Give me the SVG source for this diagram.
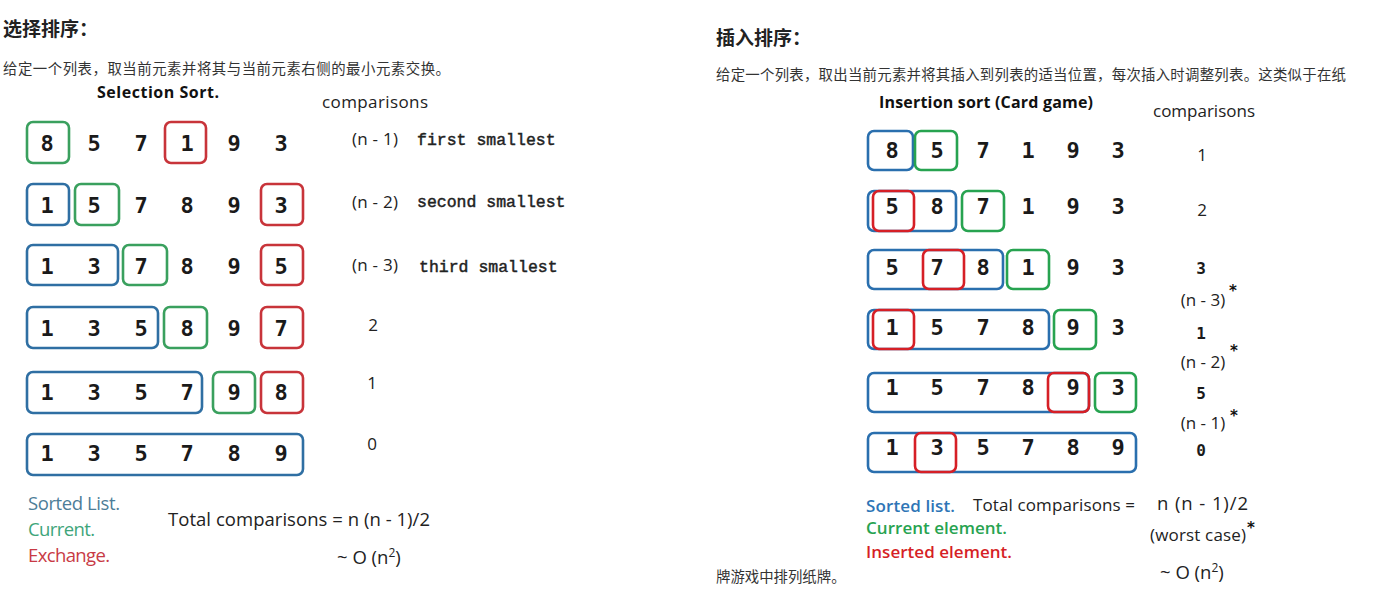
<svg xmlns="http://www.w3.org/2000/svg" width="1374" height="589" viewBox="0 0 1374 589">
<style>
.bg{fill:#ffffff}
.h{font-family:"Noto Sans CJK SC","Noto Sans",sans-serif;font-weight:bold;font-size:19px;fill:#222}
.sub{font-family:"Noto Sans CJK SC","Noto Sans",sans-serif;font-size:14.4px;fill:#333}
.cap{font-family:"Open Sans","Noto Sans",sans-serif;font-weight:bold;font-size:16px;fill:#111}
.t{font-family:"Open Sans","Noto Sans",sans-serif;font-size:17px;fill:#222}
.tl{font-family:"Open Sans","Noto Sans",sans-serif;font-size:18.5px;fill:#222}
.d{font-family:"DejaVu Sans Mono",monospace;font-weight:bold;font-size:22px;fill:#1a1a1a;text-anchor:middle}
.m{font-family:"Liberation Mono","Courier New",monospace;font-size:16.5px;fill:#222;stroke:#222;stroke-width:0.45}
.mc{font-family:"DejaVu Sans Mono",monospace;font-weight:bold;font-size:16px;fill:#1a1a1a;text-anchor:middle}
.c{text-anchor:middle}
.star{font-family:"DejaVu Sans",sans-serif;font-weight:bold;font-size:15px;fill:#111}
.bx{fill:none;stroke-width:2.6}
.lb{stroke:#2f6fa3}.lg{stroke:#3aa05e}.lr{stroke:#c8343a}
.rb{stroke:#2a6fae}.rg{stroke:#27a350}.rr{stroke:#d61f26}
</style>
<rect class="bg" x="0" y="0" width="1374" height="589"/>

<g id="sel-title">
<text class="h" x="3" y="36">选择排序：</text>
<text class="sub" x="3" y="74" textLength="447">给定一个列表，取当前元素并将其与当前元素右侧的最小元素交换。</text>
<text class="cap" x="97" y="98" textLength="122">Selection Sort.</text>
<text class="t" x="322" y="108" textLength="106">comparisons</text>
</g>

<g id="sel-row1">
<rect class="bx lg" x="27" y="122" width="42" height="41" rx="6"/>
<rect class="bx lr" x="165" y="122" width="41" height="41" rx="6"/>
<text class="d" y="151"><tspan x="47">8</tspan><tspan x="94">5</tspan><tspan x="141">7</tspan><tspan x="187">1</tspan><tspan x="234">9</tspan><tspan x="281">3</tspan></text>
<text class="t" x="352" y="145" textLength="46">(n - 1)</text>
<text class="m" x="417" y="145">first smallest</text>
</g>

<g id="sel-row2">
<rect class="bx lb" x="27" y="184" width="42" height="41" rx="6"/>
<rect class="bx lg" x="75" y="184" width="44" height="41" rx="6"/>
<rect class="bx lr" x="261" y="184" width="42" height="41" rx="6"/>
<text class="d" y="213"><tspan x="47">1</tspan><tspan x="94">5</tspan><tspan x="141">7</tspan><tspan x="187">8</tspan><tspan x="234">9</tspan><tspan x="281">3</tspan></text>
<text class="t" x="352" y="208" textLength="46">(n - 2)</text>
<text class="m" x="417" y="207">second smallest</text>
</g>

<g id="sel-row3">
<rect class="bx lb" x="27" y="245" width="91" height="40" rx="6"/>
<rect class="bx lg" x="123" y="245" width="44" height="40" rx="6"/>
<rect class="bx lr" x="261" y="245" width="42" height="40" rx="6"/>
<text class="d" y="274"><tspan x="47">1</tspan><tspan x="94">3</tspan><tspan x="141">7</tspan><tspan x="187">8</tspan><tspan x="234">9</tspan><tspan x="281">5</tspan></text>
<text class="t" x="352" y="271" textLength="46">(n - 3)</text>
<text class="m" x="419" y="272">third smallest</text>
</g>

<g id="sel-row4">
<rect class="bx lb" x="27" y="307" width="131" height="41" rx="6"/>
<rect class="bx lg" x="164" y="307" width="43" height="41" rx="6"/>
<rect class="bx lr" x="261" y="307" width="42" height="41" rx="6"/>
<text class="d" y="336"><tspan x="47">1</tspan><tspan x="94">3</tspan><tspan x="141">5</tspan><tspan x="187">8</tspan><tspan x="234">9</tspan><tspan x="281">7</tspan></text>
<text class="t c" x="373" y="331">2</text>
</g>

<g id="sel-row5">
<rect class="bx lb" x="27" y="372" width="175" height="41" rx="6"/>
<rect class="bx lg" x="213" y="372" width="42" height="41" rx="6"/>
<rect class="bx lr" x="261" y="372" width="42" height="41" rx="6"/>
<text class="d" y="400"><tspan x="47">1</tspan><tspan x="94">3</tspan><tspan x="141">5</tspan><tspan x="187">7</tspan><tspan x="234">9</tspan><tspan x="281">8</tspan></text>
<text class="t c" x="372" y="389">1</text>
</g>

<g id="sel-row6">
<rect class="bx lb" x="27" y="434" width="276" height="41" rx="6"/>
<text class="d" y="461"><tspan x="47">1</tspan><tspan x="94">3</tspan><tspan x="141">5</tspan><tspan x="187">7</tspan><tspan x="234">8</tspan><tspan x="281">9</tspan></text>
<text class="t c" x="372" y="450">0</text>
</g>

<g id="sel-legend">
<text class="tl" x="28" y="510" style="fill:#4d7d98" textLength="92">Sorted List.</text>
<text class="tl" x="28" y="536" style="fill:#3ea57a" textLength="67">Current.</text>
<text class="tl" x="28" y="562" style="fill:#c83a45" textLength="82">Exchange.</text>
<text class="tl" x="168" y="526" textLength="262">Total comparisons = n (n - 1)/2</text>
<text class="tl" x="337" y="564">~ O (n<tspan font-size="12" dy="-7">2</tspan><tspan dy="7">)</tspan></text>
</g>

<g id="ins-title">
<text class="h" x="716" y="45">插入排序：</text>
<text class="sub" x="716" y="80" textLength="630">给定一个列表，取出当前元素并将其插入到列表的适当位置，每次插入时调整列表。这类似于在纸</text>
<text class="cap" x="879" y="108" textLength="214">Insertion sort (Card game)</text>
<text class="t" x="1153" y="117" textLength="102">comparisons</text>
</g>

<g id="ins-row1">
<rect class="bx rb" x="868" y="131" width="45" height="39" rx="6"/>
<rect class="bx rg" x="915" y="131" width="42" height="39" rx="6"/>
<text class="d" y="158"><tspan x="892">8</tspan><tspan x="937">5</tspan><tspan x="983">7</tspan><tspan x="1028">1</tspan><tspan x="1073">9</tspan><tspan x="1118">3</tspan></text>
<text class="t c" x="1202" y="161">1</text>
</g>

<g id="ins-row2">
<rect class="bx rb" x="868" y="191" width="88" height="40" rx="6"/>
<rect class="bx rr" x="873" y="191" width="41" height="40" rx="6"/>
<rect class="bx rg" x="962" y="191" width="42" height="40" rx="6"/>
<text class="d" y="214"><tspan x="892">5</tspan><tspan x="937">8</tspan><tspan x="983">7</tspan><tspan x="1028">1</tspan><tspan x="1073">9</tspan><tspan x="1118">3</tspan></text>
<text class="t c" x="1202" y="216">2</text>
</g>

<g id="ins-row3">
<rect class="bx rb" x="868" y="250" width="135" height="39" rx="6"/>
<rect class="bx rr" x="923" y="250" width="41" height="39" rx="6"/>
<rect class="bx rg" x="1007" y="250" width="42" height="39" rx="6"/>
<text class="d" y="275"><tspan x="892">5</tspan><tspan x="937">7</tspan><tspan x="983">8</tspan><tspan x="1028">1</tspan><tspan x="1073">9</tspan><tspan x="1118">3</tspan></text>
<text class="mc" x="1201" y="274">3</text>
<text class="t c" x="1203" y="306">(n - 3)</text>
<text class="star" x="1229" y="296">*</text>
</g>

<g id="ins-row4">
<rect class="bx rb" x="868" y="310" width="181" height="39" rx="6"/>
<rect class="bx rr" x="873" y="310" width="41" height="39" rx="6"/>
<rect class="bx rg" x="1054" y="310" width="42" height="39" rx="6"/>
<text class="d" y="335"><tspan x="892">1</tspan><tspan x="937">5</tspan><tspan x="983">7</tspan><tspan x="1028">8</tspan><tspan x="1073">9</tspan><tspan x="1118">3</tspan></text>
<text class="mc" x="1201" y="339">1</text>
<text class="t c" x="1203" y="368">(n - 2)</text>
<text class="star" x="1230" y="356">*</text>
</g>

<g id="ins-row5">
<rect class="bx rb" x="868" y="373" width="221" height="39" rx="6"/>
<rect class="bx rr" x="1048" y="373" width="41" height="39" rx="6"/>
<rect class="bx rg" x="1095" y="373" width="41" height="39" rx="6"/>
<text class="d" y="395"><tspan x="892">1</tspan><tspan x="937">5</tspan><tspan x="983">7</tspan><tspan x="1028">8</tspan><tspan x="1073">9</tspan><tspan x="1118">3</tspan></text>
<text class="mc" x="1201" y="399">5</text>
<text class="t c" x="1203" y="429">(n - 1)</text>
<text class="star" x="1230" y="421">*</text>
</g>

<g id="ins-row6">
<rect class="bx rb" x="868" y="433" width="268" height="39" rx="6"/>
<rect class="bx rr" x="915" y="433" width="41" height="39" rx="6"/>
<text class="d" y="455"><tspan x="892">1</tspan><tspan x="937">3</tspan><tspan x="983">5</tspan><tspan x="1028">7</tspan><tspan x="1073">8</tspan><tspan x="1118">9</tspan></text>
<text class="mc" x="1201" y="456">0</text>
</g>

<g id="ins-legend">
<text class="t" x="866" y="512" style="fill:#2e75b6;font-weight:600" textLength="89">Sorted list.</text>
<text class="t" x="973" y="511" textLength="162">Total comparisons =</text>
<text class="tl" x="1157" y="510" textLength="91">n (n - 1)/2</text>
<text class="t" x="866" y="534" style="fill:#27a350;font-weight:600" textLength="141">Current element.</text>
<text class="t" x="1150" y="541" textLength="96">(worst case)</text>
<text class="star" x="1247" y="533">*</text>
<text class="t" x="866" y="558" style="fill:#d61f26;font-weight:600" textLength="146">Inserted element.</text>
<text class="tl" x="1160" y="579">~ O (n<tspan font-size="12" dy="-7">2</tspan><tspan dy="7">)</tspan></text>
<text class="sub" x="716" y="582">牌游戏中排列纸牌。</text>
</g>
</svg>
